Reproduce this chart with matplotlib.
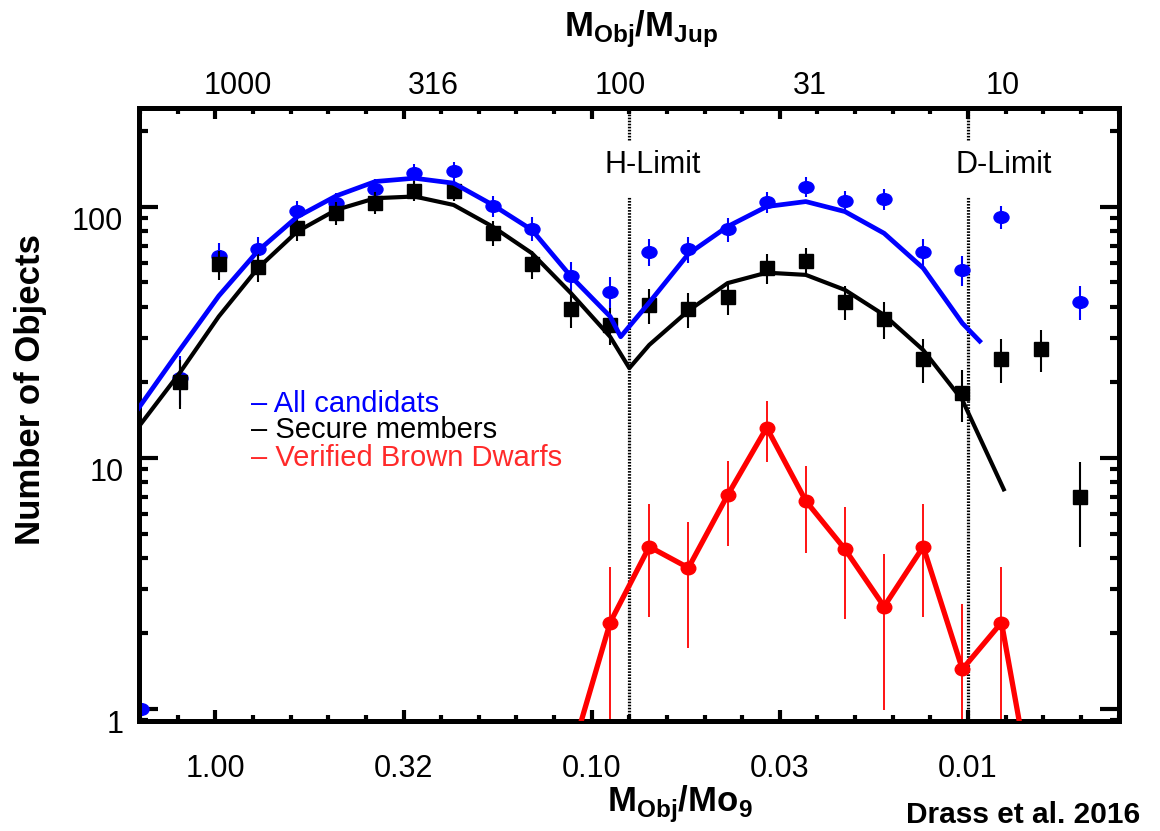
import numpy as np
import matplotlib
matplotlib.use("Agg")
import matplotlib.pyplot as plt
import matplotlib.transforms as mtransforms
from matplotlib.path import Path
from matplotlib.ticker import FixedLocator, FixedFormatter, NullLocator

plt.rcParams['font.family'] = ['Liberation Sans', 'DejaVu Sans']
plt.rcParams['mathtext.fontset'] = 'custom'
plt.rcParams['mathtext.rm'] = 'Liberation Sans'
plt.rcParams['mathtext.bf'] = 'Liberation Sans:bold'

#%% Data: bin centres in log10(M/Msun), counts per bin
log_mass = [0.095, -0.009, -0.113, -0.217, -0.321, -0.425, -0.529, -0.633,
            -0.737, -0.841, -0.945, -1.049, -1.153, -1.257, -1.361, -1.465,
            -1.569, -1.673, -1.777, -1.881, -1.985, -2.089, -2.193, -2.297]

all_cand = [20.8, 63.8, 68.0, 96.0, 103.5, 118.0, 136.5, 139.0,
            100.9, 82.0, 53.0, 46.0, 66.2, 68.0, 81.7, 104.7,
            120.0, 105.7, 107.6, 66.2, 56.1, 91.2, np.nan, 41.8]
all_cand_err = [4.6, 8.0, 8.2, 9.8, 10.2, 10.9, 11.7, 11.8,
                10.0, 9.0, 7.3, 6.8, 8.1, 8.2, 9.0, 10.2,
                11.0, 10.3, 10.4, 8.1, 7.5, 9.5, np.nan, 6.5]

# lone candidate point at the left edge
edge_mass = [0.199]
edge_count = [1.0]

secure = [20.1, 59.0, 57.6, 82.3, 94.5, 104.0, 116.0, 116.0,
          78.6, 59.3, 39.2, 33.9, 40.7, 39.2, 43.8, 57.1,
          60.9, 41.8, 35.8, 24.8, 18.2, 24.8, 27.2, 7.0]
secure_err = [4.5, 7.7, 7.6, 9.1, 9.7, 10.2, 10.8, 10.8,
              8.9, 7.7, 6.3, 5.8, 6.4, 6.3, 6.6, 7.6,
              7.8, 6.5, 6.0, 5.0, 4.3, 5.0, 5.2, 2.6]

bd_mass = [-0.945, -1.049, -1.153, -1.257, -1.361, -1.465, -1.569,
           -1.673, -1.777, -1.881, -1.985, -2.089, -2.193]
bd_count = [0.65, 2.21, 4.43, 3.65, 7.10, 13.2, 6.74,
            4.33, 2.56, 4.43, 1.44, 2.21, 0.30]
bd_err = [0.0, 1.48, 2.1, 1.9, 2.65, 3.6, 2.55,
          2.05, 1.57, 2.1, 1.18, 1.48, 0.0]

# log-normal fits
fit_all_x = [0.204, 0.095, -0.009, -0.113, -0.217, -0.321, -0.425, -0.529,
             -0.633, -0.737, -0.841, -0.945, -1.049, -1.077, -1.153, -1.257,
             -1.361, -1.465, -1.569, -1.673, -1.777, -1.881, -1.985, -2.031]
fit_all_y = [15.8, 26.9, 44.2, 66.8, 91.2, 110.6, 126.2, 130.1,
             124.3, 101.8, 81.0, 52.8, 36.6, 30.4, 41.6, 65.0,
             83.5, 100.3, 105.0, 95.8, 78.5, 57.0, 34.4, 29.2]

fit_sec_x = [0.204, 0.095, -0.009, -0.113, -0.217, -0.321, -0.425, -0.529,
             -0.633, -0.737, -0.841, -0.945, -1.049, -1.100, -1.153, -1.257,
             -1.361, -1.465, -1.569, -1.673, -1.777, -1.881, -1.985, -2.095]
fit_sec_y = [13.3, 21.8, 36.6, 57.0, 79.7, 97.3, 108.3, 110.0,
             101.8, 83.4, 65.4, 45.3, 30.4, 22.8, 28.2, 38.6,
             49.7, 54.7, 53.6, 46.7, 37.1, 26.9, 17.0, 7.5]

h_limit = -1.1
d_limit = -2.0

bottom_ticks = [0.0, -0.5, -1.0, -1.5, -2.0]
bottom_labels = ['1.00', '0.32', '0.10', '0.03', '0.01']
top_label_pos = [-0.060, -0.578, -1.076, -1.579, -2.091]
top_labels = ['1000', '316', '100', '31', '10']

#%% Figure
fig = plt.figure(figsize=(11.6, 8.31), dpi=100)
ax = fig.add_axes([0.1195, 0.1324, 0.8454, 0.7377])
ax.set_yscale('log')

circ = Path.unit_circle()
ell_blue = Path(circ.vertices * [1.0, 0.78], circ.codes)
ell_red = Path(circ.vertices * [1.0, 0.86], circ.codes)

ax.plot(fit_all_x, fit_all_y, color='blue', lw=3.4, zorder=3)
ax.plot(fit_sec_x, fit_sec_y, color='black', lw=3.0, zorder=3)

ax.errorbar(log_mass, all_cand, yerr=all_cand_err, fmt='none',
            ecolor='blue', elinewidth=1.5, capsize=0, zorder=2)
ax.plot(log_mass, all_cand, linestyle='none', marker=ell_blue, ms=10.8,
        color='blue', zorder=2)
ax.plot(edge_mass, edge_count, linestyle='none', marker=ell_blue, ms=10.8,
        color='blue', zorder=2)

ax.errorbar(log_mass, secure, yerr=secure_err, fmt='none',
            ecolor='black', elinewidth=1.5, capsize=0, zorder=2)
ax.plot(log_mass, secure, linestyle='none', marker='s', ms=10.2,
        color='black', zorder=2)

ax.errorbar(bd_mass, bd_count, yerr=bd_err, fmt='none',
            ecolor='red', elinewidth=1.3, capsize=0, zorder=2)
ax.plot(bd_mass, bd_count, color='red', lw=3.8, marker=ell_red, ms=10.5,
        zorder=3)

# mass limits (dotted, broken where the label sits)
for xl in (h_limit, d_limit):
    ax.plot([xl, xl], [0.896, 109.9], color='black', lw=2.3,
            linestyle=(0, (0.5, 0.45)), zorder=1)
    ax.plot([xl, xl], [184.9, 247.8], color='black', lw=2.3,
            linestyle=(0, (0.5, 0.45)), zorder=1)
ax.text(-1.035, 136.2, 'H-Limit', fontsize=22, ha='left', va='baseline')
ax.text(-1.968, 136.2, 'D-Limit', fontsize=22, ha='left', va='baseline')

ax.set_xlim(0.204, -2.402)
ax.set_ylim(0.896, 247.8)

# x axis ticks
ax.xaxis.set_major_locator(FixedLocator(bottom_ticks))
ax.xaxis.set_major_formatter(FixedFormatter(bottom_labels))
ax.xaxis.set_minor_locator(FixedLocator(np.arange(-2.4, 0.25, 0.1)))
ax.yaxis.set_major_locator(FixedLocator([1, 10, 100]))
ax.yaxis.set_major_formatter(FixedFormatter(['1', '10', '100']))

ax.tick_params(axis='x', which='major', direction='in', length=8, width=3,
               top=True, bottom=True, labelsize=22, pad=24)
ax.tick_params(axis='x', which='minor', direction='in', length=4, width=3,
               top=True, bottom=True)
ax.tick_params(axis='y', which='major', direction='in', length=14, width=3,
               left=True, right=True, labelsize=22, pad=11)
ax.tick_params(axis='y', which='minor', direction='in', length=6.5, width=3,
               left=True, right=True)
for sp in ax.spines.values():
    sp.set_linewidth(3.6)

shift = mtransforms.ScaledTranslation(0, -0.12, fig.dpi_scale_trans)
for tick in ax.yaxis.get_major_ticks():
    tick.label1.set_transform(tick.label1.get_transform() + shift)

secax = ax.secondary_xaxis('top')
secax.set_xticks(top_label_pos, labels=top_labels)
secax.xaxis.set_minor_locator(NullLocator())
secax.tick_params(axis='x', length=0, labelsize=22, pad=5)
secax.spines['top'].set_visible(False)

# legend as coloured text
ax.text(0.1146, 0.5046, '\u2013 All candidats', color='blue', fontsize=21,
        transform=ax.transAxes, va='baseline')
ax.text(0.1146, 0.4612, '\u2013 Secure members', color='black', fontsize=21,
        transform=ax.transAxes, va='baseline')
ax.text(0.1146, 0.4160, '\u2013 Verified Brown Dwarfs', color='#ff2a2a',
        fontsize=21, transform=ax.transAxes, va='baseline')

fig.text(0.0259, 0.5307, 'Number of Objects', rotation=90, ha='center',
         va='center', fontsize=25, fontweight='bold')
fig.text(0.5526, 0.9555, r'M$_\mathbf{Obj}$/M$_\mathbf{Jup}$', ha='center',
         va='baseline', fontsize=25, fontweight='bold')
fig.text(0.5862, 0.0232, r'M$_\mathbf{Obj}$/Mo$_\mathbf{9}$', ha='center',
         va='baseline', fontsize=25, fontweight='bold')
fig.text(0.9828, 0.0093, 'Drass et al. 2016', ha='right', va='baseline',
         fontsize=21.5, fontweight='bold')

fig.savefig('out.png', dpi=100)
